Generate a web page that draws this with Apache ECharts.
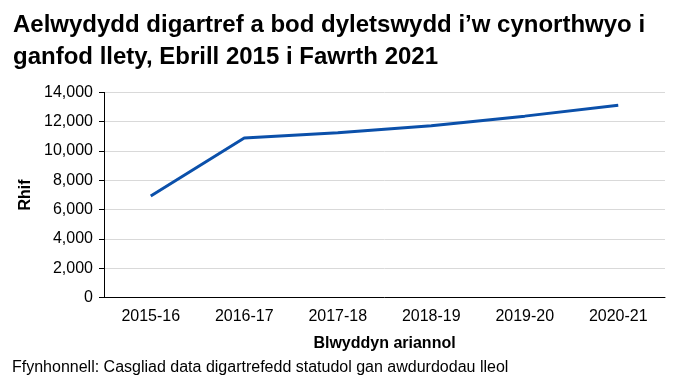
<!DOCTYPE html>
<html><head><meta charset="utf-8">
<script src="https://cdn.jsdelivr.net/npm/echarts@6/dist/echarts.min.js"></script>
<style>html,body{margin:0;padding:0;background:#fff}#c{width:682px;height:391px}</style>
</head><body><div id="c"></div>
<script>
const categories = ['2015-16','2016-17','2017-18','2018-19','2019-20','2020-21'];
const values = [6930, 10890, 11250, 11730, 12380, 13120];
const yTicks = [0, 2000, 4000, 6000, 8000, 10000, 12000, 14000];
const titleLines = ['Aelwydydd digartref a bod dyletswydd i\u2019w cynorthwyo i', 'ganfod llety, Ebrill 2015 i Fawrth 2021'];
const xName = 'Blwyddyn ariannol';
const yName = 'Rhif';
const source = 'Ffynhonnell: Casgliad data digartrefedd statudol gan awdurdodau lleol';

const chart = echarts.init(document.getElementById('c'), null, {renderer: 'canvas'});
const font = 'Liberation Sans, Arial, sans-serif';
chart.setOption({
  animation: false,
  title: [{
    text: titleLines.join('\n'), left: 8, top: 4,
    textStyle: {fontFamily: font, fontSize: 24, fontWeight: 'bold', color: '#000', lineHeight: 32}
  }, {
    text: source, left: 7, top: 355,
    textStyle: {fontFamily: font, fontSize: 16, fontWeight: 'normal', color: '#000'}
  }],
  grid: {left: 104, right: 17, top: 92.4, bottom: 93.5, containLabel: false},
  xAxis: {
    type: 'category', data: categories, boundaryGap: true,
    name: xName, nameLocation: 'middle', nameGap: 38,
    nameTextStyle: {fontFamily: font, fontSize: 16, fontWeight: 'bold', color: '#000'},
    axisLine: {lineStyle: {color: '#000', width: 1}},
    axisTick: {show: false},
    axisLabel: {fontFamily: font, fontSize: 16, color: '#000', margin: 11}
  },
  yAxis: {
    type: 'value', min: yTicks[0], max: yTicks[yTicks.length - 1], interval: 2000,
    name: yName, nameLocation: 'middle', nameGap: 64, nameRotate: 90,
    nameTextStyle: {fontFamily: font, fontSize: 16, fontWeight: 'bold', color: '#000'},
    axisLine: {show: true, lineStyle: {color: '#000', width: 1}},
    axisTick: {show: true, length: 5, lineStyle: {color: '#000'}},
    splitLine: {lineStyle: {color: '#d9d9d9', width: 1}},
    axisLabel: {fontFamily: font, fontSize: 16, color: '#000', margin: 11,
      formatter: v => v.toLocaleString('en-US')}
  },
  series: [{
    type: 'line', data: values, symbol: 'none',
    lineStyle: {color: '#0b50aa', width: 3}
  }]
});
</script></body></html>
